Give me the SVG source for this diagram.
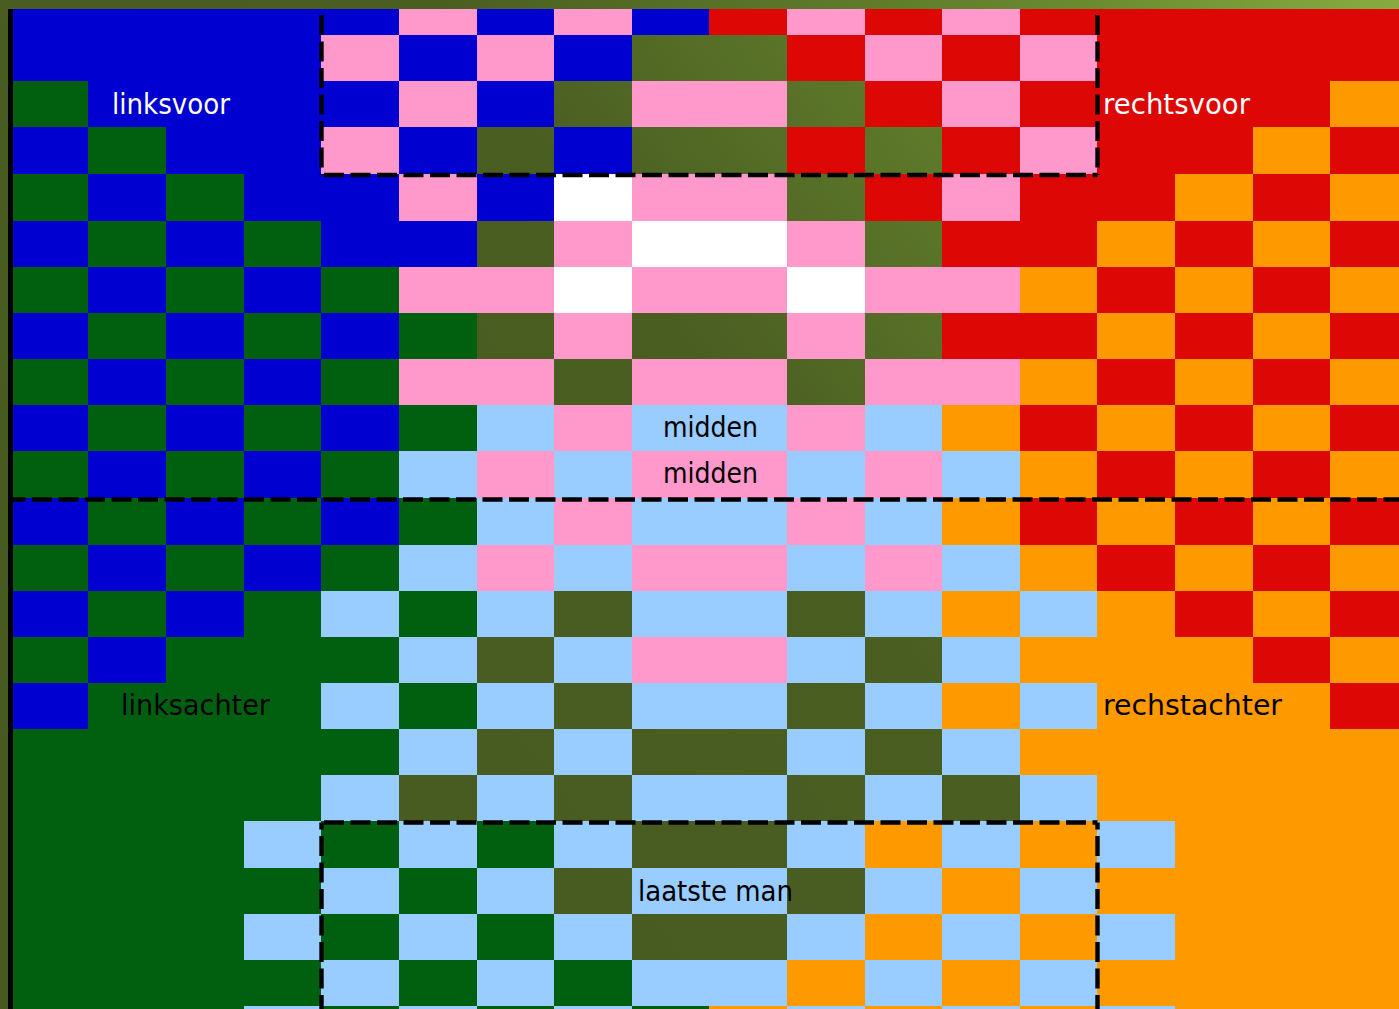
<svg xmlns="http://www.w3.org/2000/svg" xmlns:xlink="http://www.w3.org/1999/xlink" width="1399" height="1009" viewBox="0 0 1399 1009">
<style>
.b{fill:#0000d0}.g{fill:#006010}.p{fill:#ff99cc}.r{fill:#dd0806}.o{fill:#ff9900}.l{fill:#99ccff}.w{fill:#ffffff}
.dash{fill:none;stroke:#000;stroke-width:4.4;stroke-dasharray:20 6.5}
.lbl{font-family:'Comic Sans MS','DejaVu Sans',sans-serif;font-size:29px}
.wt{fill:#ffffff}.bk{fill:#000000}
</style>
<defs>
<linearGradient id="grass" gradientUnits="userSpaceOnUse" x1="0" y1="1009" x2="1399" y2="0">
<stop offset="0" stop-color="#465a20"/>
<stop offset="0.55" stop-color="#4a5e22"/>
<stop offset="0.7" stop-color="#5a7428"/>
<stop offset="0.85" stop-color="#6a8a30"/>
<stop offset="1" stop-color="#8aab40"/>
</linearGradient>
<g id="rowA">
<rect class="b" x="11" y="0" width="77" height="1"/><rect class="g" x="88" y="0" width="78" height="1"/><rect class="b" x="166" y="0" width="78" height="1"/><rect class="g" x="244" y="0" width="77" height="1"/><rect class="b" x="321" y="0" width="78" height="1"/><rect class="g" x="399" y="0" width="78" height="1"/><rect class="l" x="477" y="0" width="77" height="1"/><rect class="p" x="554" y="0" width="78" height="1"/><rect class="l" x="632" y="0" width="155" height="1"/><rect class="p" x="787" y="0" width="78" height="1"/><rect class="l" x="865" y="0" width="77" height="1"/><rect class="o" x="942" y="0" width="78" height="1"/><rect class="r" x="1020" y="0" width="77" height="1"/><rect class="o" x="1097" y="0" width="78" height="1"/><rect class="r" x="1175" y="0" width="78" height="1"/><rect class="o" x="1253" y="0" width="77" height="1"/><rect class="r" x="1330" y="0" width="69" height="1"/>
</g>
<g id="rowB">
<rect class="g" x="11" y="0" width="77" height="1"/><rect class="b" x="88" y="0" width="78" height="1"/><rect class="g" x="166" y="0" width="78" height="1"/><rect class="b" x="244" y="0" width="77" height="1"/><rect class="g" x="321" y="0" width="78" height="1"/><rect class="l" x="399" y="0" width="78" height="1"/><rect class="p" x="477" y="0" width="77" height="1"/><rect class="l" x="554" y="0" width="78" height="1"/><rect class="p" x="632" y="0" width="155" height="1"/><rect class="l" x="787" y="0" width="78" height="1"/><rect class="p" x="865" y="0" width="77" height="1"/><rect class="l" x="942" y="0" width="78" height="1"/><rect class="o" x="1020" y="0" width="77" height="1"/><rect class="r" x="1097" y="0" width="78" height="1"/><rect class="o" x="1175" y="0" width="78" height="1"/><rect class="r" x="1253" y="0" width="77" height="1"/><rect class="o" x="1330" y="0" width="69" height="1"/>
</g>
<g id="rowC">
<rect class="g" x="11" y="0" width="233" height="1"/><rect class="l" x="244" y="0" width="77" height="1"/><rect class="g" x="321" y="0" width="78" height="1"/><rect class="l" x="399" y="0" width="78" height="1"/><rect class="g" x="477" y="0" width="77" height="1"/><rect class="l" x="554" y="0" width="78" height="1"/><rect class="l" x="787" y="0" width="78" height="1"/><rect class="o" x="865" y="0" width="77" height="1"/><rect class="l" x="942" y="0" width="78" height="1"/><rect class="o" x="1020" y="0" width="77" height="1"/><rect class="l" x="1097" y="0" width="78" height="1"/><rect class="o" x="1175" y="0" width="224" height="1"/>
</g>
</defs>

<g id="background">
<rect x="0" y="0" width="1399" height="1009" fill="url(#grass)"/>
</g>

<g id="tiles">
<g transform="translate(0,9) scale(1,26)">
<rect class="b" x="11" y="0" width="388" height="1"/><rect class="p" x="399" y="0" width="78" height="1"/><rect class="b" x="477" y="0" width="77" height="1"/><rect class="p" x="554" y="0" width="78" height="1"/><rect class="b" x="632" y="0" width="77" height="1"/><rect class="r" x="709" y="0" width="78" height="1"/><rect class="p" x="787" y="0" width="78" height="1"/><rect class="r" x="865" y="0" width="77" height="1"/><rect class="p" x="942" y="0" width="78" height="1"/><rect class="r" x="1020" y="0" width="379" height="1"/>
</g>
<g transform="translate(0,35) scale(1,46)">
<rect class="b" x="11" y="0" width="310" height="1"/><rect class="p" x="321" y="0" width="78" height="1"/><rect class="b" x="399" y="0" width="78" height="1"/><rect class="p" x="477" y="0" width="77" height="1"/><rect class="b" x="554" y="0" width="78" height="1"/><rect class="r" x="787" y="0" width="78" height="1"/><rect class="p" x="865" y="0" width="77" height="1"/><rect class="r" x="942" y="0" width="78" height="1"/><rect class="p" x="1020" y="0" width="77" height="1"/><rect class="r" x="1097" y="0" width="302" height="1"/>
</g>
<g transform="translate(0,81) scale(1,46)">
<rect class="g" x="11" y="0" width="77" height="1"/><rect class="b" x="88" y="0" width="311" height="1"/><rect class="p" x="399" y="0" width="78" height="1"/><rect class="b" x="477" y="0" width="77" height="1"/><rect class="p" x="632" y="0" width="155" height="1"/><rect class="r" x="865" y="0" width="77" height="1"/><rect class="p" x="942" y="0" width="78" height="1"/><rect class="r" x="1020" y="0" width="310" height="1"/><rect class="o" x="1330" y="0" width="69" height="1"/>
</g>
<g transform="translate(0,127) scale(1,47)">
<rect class="b" x="11" y="0" width="77" height="1"/><rect class="g" x="88" y="0" width="78" height="1"/><rect class="b" x="166" y="0" width="155" height="1"/><rect class="p" x="321" y="0" width="78" height="1"/><rect class="b" x="399" y="0" width="78" height="1"/><rect class="b" x="554" y="0" width="78" height="1"/><rect class="r" x="787" y="0" width="78" height="1"/><rect class="r" x="942" y="0" width="78" height="1"/><rect class="p" x="1020" y="0" width="77" height="1"/><rect class="r" x="1097" y="0" width="156" height="1"/><rect class="o" x="1253" y="0" width="77" height="1"/><rect class="r" x="1330" y="0" width="69" height="1"/>
</g>
<g transform="translate(0,174) scale(1,47)">
<rect class="g" x="11" y="0" width="77" height="1"/><rect class="b" x="88" y="0" width="78" height="1"/><rect class="g" x="166" y="0" width="78" height="1"/><rect class="b" x="244" y="0" width="155" height="1"/><rect class="p" x="399" y="0" width="78" height="1"/><rect class="b" x="477" y="0" width="77" height="1"/><rect class="w" x="554" y="0" width="78" height="1"/><rect class="p" x="632" y="0" width="155" height="1"/><rect class="r" x="865" y="0" width="77" height="1"/><rect class="p" x="942" y="0" width="78" height="1"/><rect class="r" x="1020" y="0" width="155" height="1"/><rect class="o" x="1175" y="0" width="78" height="1"/><rect class="r" x="1253" y="0" width="77" height="1"/><rect class="o" x="1330" y="0" width="69" height="1"/>
</g>
<g transform="translate(0,221) scale(1,46)">
<rect class="b" x="11" y="0" width="77" height="1"/><rect class="g" x="88" y="0" width="78" height="1"/><rect class="b" x="166" y="0" width="78" height="1"/><rect class="g" x="244" y="0" width="77" height="1"/><rect class="b" x="321" y="0" width="156" height="1"/><rect class="p" x="554" y="0" width="78" height="1"/><rect class="w" x="632" y="0" width="155" height="1"/><rect class="p" x="787" y="0" width="78" height="1"/><rect class="r" x="942" y="0" width="155" height="1"/><rect class="o" x="1097" y="0" width="78" height="1"/><rect class="r" x="1175" y="0" width="78" height="1"/><rect class="o" x="1253" y="0" width="77" height="1"/><rect class="r" x="1330" y="0" width="69" height="1"/>
</g>
<g transform="translate(0,267) scale(1,46)">
<rect class="g" x="11" y="0" width="77" height="1"/><rect class="b" x="88" y="0" width="78" height="1"/><rect class="g" x="166" y="0" width="78" height="1"/><rect class="b" x="244" y="0" width="77" height="1"/><rect class="g" x="321" y="0" width="78" height="1"/><rect class="p" x="399" y="0" width="155" height="1"/><rect class="w" x="554" y="0" width="78" height="1"/><rect class="p" x="632" y="0" width="155" height="1"/><rect class="w" x="787" y="0" width="78" height="1"/><rect class="p" x="865" y="0" width="155" height="1"/><rect class="o" x="1020" y="0" width="77" height="1"/><rect class="r" x="1097" y="0" width="78" height="1"/><rect class="o" x="1175" y="0" width="78" height="1"/><rect class="r" x="1253" y="0" width="77" height="1"/><rect class="o" x="1330" y="0" width="69" height="1"/>
</g>
<g transform="translate(0,313) scale(1,46)">
<rect class="b" x="11" y="0" width="77" height="1"/><rect class="g" x="88" y="0" width="78" height="1"/><rect class="b" x="166" y="0" width="78" height="1"/><rect class="g" x="244" y="0" width="77" height="1"/><rect class="b" x="321" y="0" width="78" height="1"/><rect class="g" x="399" y="0" width="78" height="1"/><rect class="p" x="554" y="0" width="78" height="1"/><rect class="p" x="787" y="0" width="78" height="1"/><rect class="r" x="942" y="0" width="155" height="1"/><rect class="o" x="1097" y="0" width="78" height="1"/><rect class="r" x="1175" y="0" width="78" height="1"/><rect class="o" x="1253" y="0" width="77" height="1"/><rect class="r" x="1330" y="0" width="69" height="1"/>
</g>
<g transform="translate(0,359) scale(1,46)">
<rect class="g" x="11" y="0" width="77" height="1"/><rect class="b" x="88" y="0" width="78" height="1"/><rect class="g" x="166" y="0" width="78" height="1"/><rect class="b" x="244" y="0" width="77" height="1"/><rect class="g" x="321" y="0" width="78" height="1"/><rect class="p" x="399" y="0" width="155" height="1"/><rect class="p" x="632" y="0" width="155" height="1"/><rect class="p" x="865" y="0" width="155" height="1"/><rect class="o" x="1020" y="0" width="77" height="1"/><rect class="r" x="1097" y="0" width="78" height="1"/><rect class="o" x="1175" y="0" width="78" height="1"/><rect class="r" x="1253" y="0" width="77" height="1"/><rect class="o" x="1330" y="0" width="69" height="1"/>
</g>
<use xlink:href="#rowA" transform="translate(0,405) scale(1,46)"/>
<use xlink:href="#rowB" transform="translate(0,451) scale(1,47)"/>
<use xlink:href="#rowA" transform="translate(0,498) scale(1,47)"/>
<use xlink:href="#rowB" transform="translate(0,545) scale(1,46)"/>
<g transform="translate(0,591) scale(1,46)">
<rect class="b" x="11" y="0" width="77" height="1"/><rect class="g" x="88" y="0" width="78" height="1"/><rect class="b" x="166" y="0" width="78" height="1"/><rect class="g" x="244" y="0" width="77" height="1"/><rect class="l" x="321" y="0" width="78" height="1"/><rect class="g" x="399" y="0" width="78" height="1"/><rect class="l" x="477" y="0" width="77" height="1"/><rect class="l" x="632" y="0" width="155" height="1"/><rect class="l" x="865" y="0" width="77" height="1"/><rect class="o" x="942" y="0" width="78" height="1"/><rect class="l" x="1020" y="0" width="77" height="1"/><rect class="o" x="1097" y="0" width="78" height="1"/><rect class="r" x="1175" y="0" width="78" height="1"/><rect class="o" x="1253" y="0" width="77" height="1"/><rect class="r" x="1330" y="0" width="69" height="1"/>
</g>
<g transform="translate(0,637) scale(1,46)">
<rect class="g" x="11" y="0" width="77" height="1"/><rect class="b" x="88" y="0" width="78" height="1"/><rect class="g" x="166" y="0" width="233" height="1"/><rect class="l" x="399" y="0" width="78" height="1"/><rect class="l" x="554" y="0" width="78" height="1"/><rect class="p" x="632" y="0" width="155" height="1"/><rect class="l" x="787" y="0" width="78" height="1"/><rect class="l" x="942" y="0" width="78" height="1"/><rect class="o" x="1020" y="0" width="233" height="1"/><rect class="r" x="1253" y="0" width="77" height="1"/><rect class="o" x="1330" y="0" width="69" height="1"/>
</g>
<g transform="translate(0,683) scale(1,46)">
<rect class="b" x="11" y="0" width="77" height="1"/><rect class="g" x="88" y="0" width="233" height="1"/><rect class="l" x="321" y="0" width="78" height="1"/><rect class="g" x="399" y="0" width="78" height="1"/><rect class="l" x="477" y="0" width="77" height="1"/><rect class="l" x="632" y="0" width="155" height="1"/><rect class="l" x="865" y="0" width="77" height="1"/><rect class="o" x="942" y="0" width="78" height="1"/><rect class="l" x="1020" y="0" width="77" height="1"/><rect class="o" x="1097" y="0" width="233" height="1"/><rect class="r" x="1330" y="0" width="69" height="1"/>
</g>
<g transform="translate(0,729) scale(1,46)">
<rect class="g" x="11" y="0" width="388" height="1"/><rect class="l" x="399" y="0" width="78" height="1"/><rect class="l" x="554" y="0" width="78" height="1"/><rect class="l" x="787" y="0" width="78" height="1"/><rect class="l" x="942" y="0" width="78" height="1"/><rect class="o" x="1020" y="0" width="379" height="1"/>
</g>
<g transform="translate(0,775) scale(1,46)">
<rect class="g" x="11" y="0" width="310" height="1"/><rect class="l" x="321" y="0" width="78" height="1"/><rect class="l" x="477" y="0" width="77" height="1"/><rect class="l" x="632" y="0" width="155" height="1"/><rect class="l" x="865" y="0" width="77" height="1"/><rect class="l" x="1020" y="0" width="77" height="1"/><rect class="o" x="1097" y="0" width="302" height="1"/>
</g>
<use xlink:href="#rowC" transform="translate(0,821) scale(1,47)"/>
<g transform="translate(0,868) scale(1,46)">
<rect class="g" x="11" y="0" width="310" height="1"/><rect class="l" x="321" y="0" width="78" height="1"/><rect class="g" x="399" y="0" width="78" height="1"/><rect class="l" x="477" y="0" width="77" height="1"/><rect class="l" x="632" y="0" width="155" height="1"/><rect class="l" x="865" y="0" width="77" height="1"/><rect class="o" x="942" y="0" width="78" height="1"/><rect class="l" x="1020" y="0" width="77" height="1"/><rect class="o" x="1097" y="0" width="302" height="1"/>
</g>
<use xlink:href="#rowC" transform="translate(0,914) scale(1,46)"/>
<g transform="translate(0,960) scale(1,46)">
<rect class="g" x="11" y="0" width="310" height="1"/><rect class="l" x="321" y="0" width="78" height="1"/><rect class="g" x="399" y="0" width="78" height="1"/><rect class="l" x="477" y="0" width="77" height="1"/><rect class="g" x="554" y="0" width="78" height="1"/><rect class="l" x="632" y="0" width="155" height="1"/><rect class="o" x="787" y="0" width="78" height="1"/><rect class="l" x="865" y="0" width="77" height="1"/><rect class="o" x="942" y="0" width="78" height="1"/><rect class="l" x="1020" y="0" width="77" height="1"/><rect class="o" x="1097" y="0" width="302" height="1"/>
</g>
<g transform="translate(0,1006) scale(1,3)">
<rect class="g" x="11" y="0" width="233" height="1"/><rect class="l" x="244" y="0" width="77" height="1"/><rect class="g" x="321" y="0" width="78" height="1"/><rect class="l" x="399" y="0" width="78" height="1"/><rect class="g" x="477" y="0" width="77" height="1"/><rect class="l" x="554" y="0" width="78" height="1"/><rect class="g" x="632" y="0" width="77" height="1"/><rect class="o" x="709" y="0" width="78" height="1"/><rect class="l" x="787" y="0" width="78" height="1"/><rect class="o" x="865" y="0" width="77" height="1"/><rect class="l" x="942" y="0" width="78" height="1"/><rect class="o" x="1020" y="0" width="77" height="1"/><rect class="l" x="1097" y="0" width="78" height="1"/><rect class="o" x="1175" y="0" width="224" height="1"/>
</g>
<rect x="8" y="9" width="5" height="1000" fill="#000"/>
</g>

<g id="connectors">
<path class="dash" d="M321.5,15 V175"/>
<path class="dash" d="M321.5,175 H1097.5" stroke-dashoffset="-2.5"/>
<path class="dash" d="M1097.5,15 V175"/>
<path class="dash" d="M13,499.5 H1399" stroke-dashoffset="7.5"/>
<path class="dash" d="M321.5,822.5 H1097.5" stroke-dashoffset="-2.5"/>
<path class="dash" d="M321.5,822.5 V1009" stroke-dashoffset="13"/>
<path class="dash" d="M1097.5,822.5 V1009" stroke-dashoffset="13"/>
</g>

<g id="labels">
<g id="label-linksvoor"><text class="lbl wt" x="112" y="114" textLength="118" lengthAdjust="spacingAndGlyphs">linksvoor</text></g>
<g id="label-rechtsvoor"><text class="lbl wt" x="1103" y="114" textLength="147" lengthAdjust="spacingAndGlyphs">rechtsvoor</text></g>
<g id="label-midden-1"><text class="lbl bk" x="663" y="437" textLength="95" lengthAdjust="spacingAndGlyphs">midden</text></g>
<g id="label-midden-2"><text class="lbl bk" x="663" y="483" textLength="95" lengthAdjust="spacingAndGlyphs">midden</text></g>
<g id="label-linksachter"><text class="lbl bk" x="121" y="715" textLength="149" lengthAdjust="spacingAndGlyphs">linksachter</text></g>
<g id="label-rechstachter"><text class="lbl bk" x="1103" y="715" textLength="179" lengthAdjust="spacingAndGlyphs">rechstachter</text></g>
<g id="label-laatste-man"><text class="lbl bk" x="638" y="901" textLength="155" lengthAdjust="spacingAndGlyphs">laatste man</text></g>
</g>
</svg>
